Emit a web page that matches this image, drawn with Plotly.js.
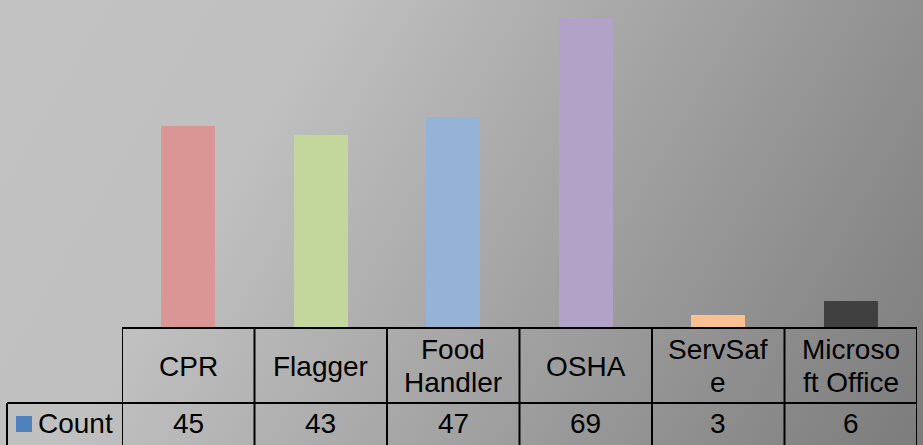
<!DOCTYPE html>
<html>
<head>
<meta charset="utf-8">
<script src="https://cdn.plot.ly/plotly-3.0.1.min.js"></script>
<style>
  html, body { margin: 0; padding: 0; overflow: hidden; }
  #chart {
    width: 923px; height: 445px;
    background: linear-gradient(120deg, #c2c2c2 0%, #c0c0c0 28%, #7c7c7c 100%);
  }
</style>
</head>
<body>
<div id="chart"></div>
<script>
const categories = ["CPR", "Flagger", "Food Handler", "OSHA", "ServSafe", "Microsoft Office"];
const counts = [45, 43, 47, 69, 3, 6];
const headerLabels = [["CPR"], ["Flagger"], ["Food", "Handler"], ["OSHA"], ["ServSaf", "e"], ["Microso", "ft Office"]];
const seriesName = "Count";
const barColors = ["#d99694", "#c3d69b", "#95b3d7", "#b3a2c7", "#fac090", "#404040"];

const W = 923, H = 445;
const L = 122, R = 6, T = 0, B = 117;
const plotW = W - L - R, plotH = H - T - B;
const py = p => (plotH + T - p) / plotH;      // pixel y -> paper y
const px = p => (p - L) / plotW;              // pixel x -> paper x

const FONT = "Liberation Sans, Arial, sans-serif";
const FS = 28;
const lineColor = "#000000";
const lw = 2;

const headerTop = 328, rowMid = 403, tableBottom = 460;

const shapes = [];
// header top line
shapes.push({type: "line", xref: "x", yref: "paper", x0: -0.5, x1: categories.length - 0.5,
  y0: py(headerTop), y1: py(headerTop), line: {color: lineColor, width: lw}});
// middle line (spanning the left legend cell too)
shapes.push({type: "line", xref: "paper", yref: "paper", x0: px(7), x1: px(L + plotW),
  y0: py(rowMid), y1: py(rowMid), line: {color: lineColor, width: lw}});
// vertical lines
for (let i = 0; i <= categories.length; i++) {
  shapes.push({type: "line", xref: "x", yref: "paper", x0: i - 0.5, x1: i - 0.5,
    y0: py(headerTop), y1: py(tableBottom), line: {color: lineColor, width: lw}});
}
// left border of count row
shapes.push({type: "line", xref: "paper", yref: "paper", x0: px(7), x1: px(7),
  y0: py(rowMid), y1: py(tableBottom), line: {color: lineColor, width: lw}});
// legend key square
shapes.push({type: "rect", xref: "paper", yref: "paper", x0: px(16), x1: px(32),
  y0: py(432), y1: py(416), fillcolor: "#4f81bd", line: {width: 0}});

const annotations = [];
headerLabels.forEach((lines, i) => {
  const centers = lines.length === 1 ? [366] : [349, 382];
  lines.forEach((txt, j) => {
    annotations.push({text: txt, xref: "x", yref: "paper", x: i, y: py(centers[j]),
      xanchor: "center", yanchor: "middle", showarrow: false,
      font: {family: FONT, size: FS, color: "#000"}});
  });
});
counts.forEach((v, i) => {
  annotations.push({text: String(v), xref: "x", yref: "paper", x: i, y: py(423),
    xanchor: "center", yanchor: "middle", showarrow: false,
    font: {family: FONT, size: FS, color: "#000"}});
});
annotations.push({text: seriesName, xref: "paper", yref: "paper", x: px(36), y: py(423),
  xanchor: "left", yanchor: "middle", showarrow: false,
  font: {family: FONT, size: FS, color: "#000"}});

const trace = {
  type: "bar",
  x: categories,
  y: counts,
  name: seriesName,
  width: 0.41,
  marker: {color: barColors, line: {width: 0}},
  hoverinfo: "x+y"
};

const layout = {
  width: W, height: H,
  margin: {l: L, r: R, t: T, b: B, pad: 0},
  paper_bgcolor: "rgba(0,0,0,0)",
  plot_bgcolor: "rgba(0,0,0,0)",
  showlegend: false,
  xaxis: {type: "category", range: [-0.5, categories.length - 0.5], showticklabels: false,
    showgrid: false, zeroline: false, showline: false, ticks: "", fixedrange: true},
  yaxis: {range: [0, 73], visible: false, showgrid: false, zeroline: false, fixedrange: true},
  shapes: shapes,
  annotations: annotations,
  bargap: 0
};

Plotly.newPlot("chart", [trace], layout, {displayModeBar: false, staticPlot: true});
</script>
</body>
</html>
